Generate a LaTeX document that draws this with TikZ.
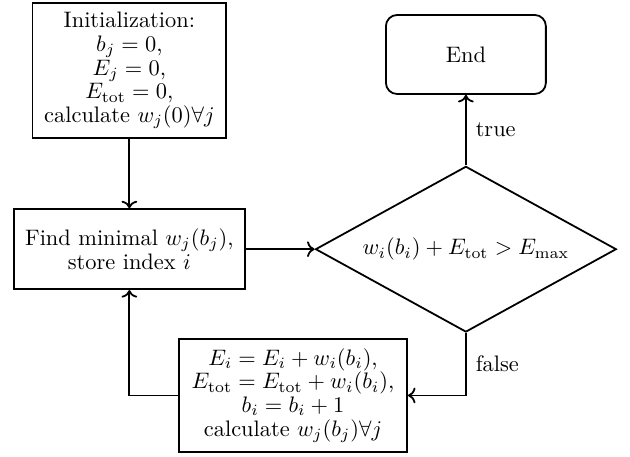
\documentclass[tikz,border=0pt]{standalone}
\usepackage{amsmath,amssymb}
\usetikzlibrary{positioning, arrows.meta, shapes.geometric}

\begin{document}
\begin{tikzpicture}[
  block/.style={rectangle, draw, thick, align=center, inner sep=1pt},
  terminal/.style={rectangle, rounded corners=5pt, draw, thick, align=center},
  decision/.style={diamond, draw, thick, inner sep=0pt, shape aspect=1.8},
  flow/.style={thick, ->},
  lbl/.style={right, inner sep=4pt},
  every node/.append style={font=\fontsize{10}{10.6}\selectfont}
]
  %% --- geometria (unita': cm) ---
  \def\xl{2.03}     % colonna di sinistra
  \def\xr{7.31}     % colonna di destra
  \def\ymid{-3.91}  % riga centrale
  \useasboundingbox (0,0) rectangle (9.885,-7.17);

  %% --- blocchi ---
  \node[block, minimum width=3.04cm, minimum height=2.12cm] (init) at (\xl,-1.106)
    {Initialization:\\ $b_j=0$,\\ $E_j=0$,\\ $E_{\text{tot}}=0$,\\ calculate $w_j(0)\forall j$};
  \node[block, minimum width=3.62cm, minimum height=1.255cm] (findmin) at (\xl,\ymid)
    {Find minimal $w_j(b_j)$,\\ store index $i$};
  \node[decision, minimum width=4.72cm, minimum height=2.60cm] (check) at (\xr,\ymid)
    {$w_i(b_i)+E_{\text{tot}}>E_{\max}$};
  \node[terminal, minimum width=2.51cm, minimum height=1.24cm] (stop) at (\xr,-0.855) {End};
  \node[block, minimum width=3.58cm, minimum height=1.77cm] (update) at (4.597,-6.205)
    {$E_i=E_i+w_i(b_i)$,\\ $E_{\text{tot}}=E_{\text{tot}}+w_i(b_i)$,\\ $b_i=b_i+1$\\ calculate $w_j(b_j)\forall j$};

  %% --- connettori ---
  \draw[flow] (init) -- (findmin);
  \draw[flow] (findmin) -- (check);
  \draw[flow] (check) -- node[lbl] {true} (stop);
  \draw[flow] (check.south) |- node[lbl, pos=0.25] {false} (update.east);
  \draw[flow] (update.west) -| (findmin.south);
\end{tikzpicture}
\end{document}
